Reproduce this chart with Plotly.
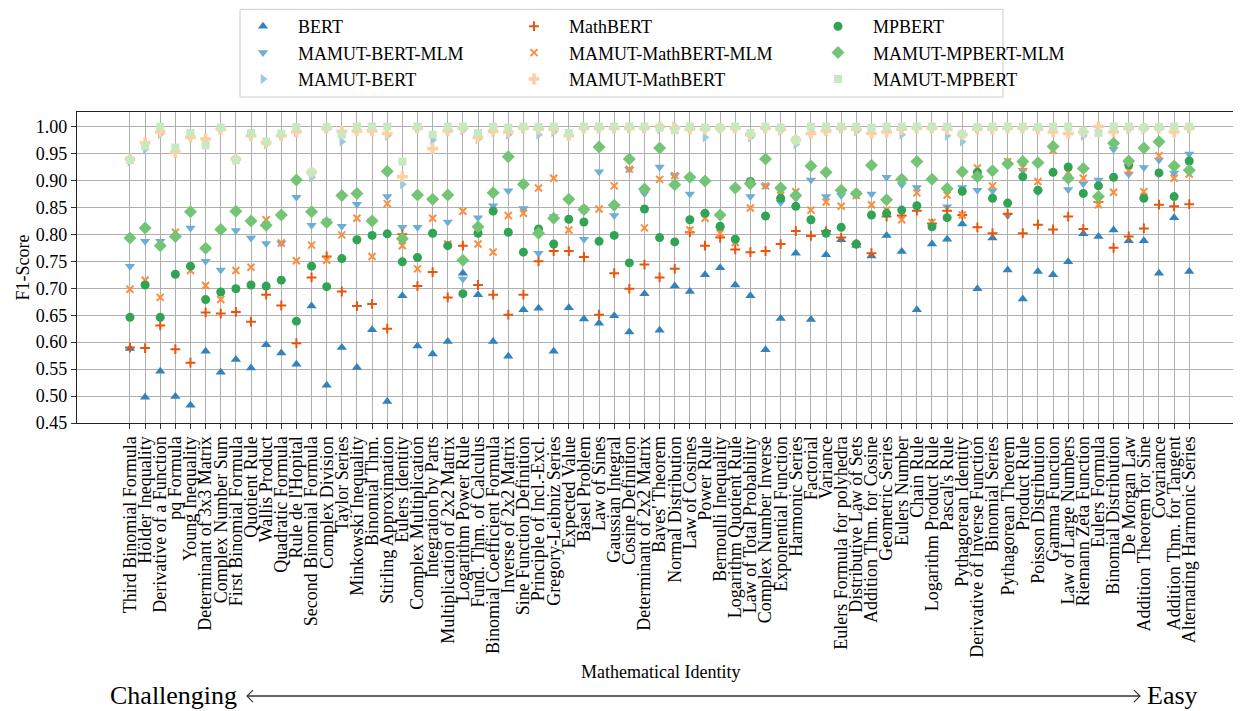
import plotly.graph_objects as go

categories = [
    "Third Binomial Formula", "Hölder Inequality", "Derivative of a Function", "pq Formula",
    "Young Inequality", "Determinant of 3x3 Matrix", "Complex Number Sum", "First Binomial Formula",
    "Quotient Rule", "Wallis Product", "Quadratic Formula", "Rule de l'Hopital",
    "Second Binomial Formula", "Complex Division", "Taylor Series", "Minkowski Inequality",
    "Binomial Thm.", "Stirling Approximation", "Eulers Identity", "Complex Multiplication",
    "Integration by Parts", "Multiplication of 2x2 Matrix", "Logarithm Power Rule",
    "Fund. Thm. of Calculus", "Binomial Coefficient Formula", "Inverse of 2x2 Matrix",
    "Sine Function Definition", "Principle of Incl.-Excl.", "Gregory-Leibniz Series",
    "Expected Value", "Basel Problem", "Law of Sines", "Gaussian Integral", "Cosine Definition",
    "Determinant of 2x2 Matrix", "Bayes' Theorem", "Normal Distribution", "Law of Cosines",
    "Power Rule", "Bernoulli Inequality", "Logarithm Quotient Rule", "Law of Total Probability",
    "Complex Number Inverse", "Exponential Function", "Harmonic Series", "Factorial", "Variance",
    "Eulers Formula for polyhedra", "Distributive Law of Sets", "Addition Thm. for Cosine",
    "Geometric Series", "Eulers Number", "Chain Rule", "Logarithm Product Rule", "Pascal's Rule",
    "Pythagorean Identity", "Derivative of Inverse Function", "Binomial Series",
    "Pythagorean Theorem", "Product Rule", "Poisson Distribution", "Gamma Function",
    "Law of Large Numbers", "Riemann Zeta Function", "Eulers Formula", "Binomial Distribution",
    "De Morgan Law", "Addition Theorem for Sine", "Covariance", "Addition Thm. for Tangent",
    "Alternating Harmonic Series",
]

bert = [0.588, 0.498, 0.546, 0.499, 0.483, 0.583, 0.544, 0.568, 0.552, 0.595,
        0.580, 0.559, 0.667, 0.520, 0.590, 0.553, 0.623, 0.490, 0.686, 0.593,
        0.578, 0.601, 0.728, 0.688, 0.601, 0.574, 0.660, 0.663, 0.583, 0.664,
        0.643, 0.635, 0.649, 0.619, 0.690, 0.622, 0.704, 0.694, 0.725, 0.738,
        0.706, 0.686, 0.586, 0.644, 0.765, 0.642, 0.762, 0.790, 0.780, 0.760,
        0.798, 0.768, 0.660, 0.782, 0.791, 0.819, 0.699, 0.793, 0.734, 0.680,
        0.731, 0.725, 0.749, 0.801, 0.796, 0.808, 0.788, 0.788, 0.728, 0.831,
        0.731]

mamut_bert_mlm = [0.741, 0.787, 0.787, 0.795, 0.812, 0.750, 0.734, 0.807, 0.793, 0.783,
                  0.784, 0.869, 0.817, 0.825, 0.815, 0.856, 0.825, 0.870, 0.813, 0.813,
                  0.865, 0.823, 0.717, 0.831, 0.853, 0.881, 0.848, 0.765, 0.833, 0.865,
                  0.791, 0.916, 0.835, 0.921, 0.876, 0.925, 0.909, 0.875, 0.836, 0.810,
                  0.886, 0.870, 0.890, 0.859, 0.867, 0.901, 0.870, 0.872, 0.876, 0.875,
                  0.906, 0.892, 0.887, 0.900, 0.851, 0.887, 0.882, 0.881, 0.835, 0.919,
                  0.878, 0.960, 0.883, 0.894, 0.901, 0.958, 0.912, 0.924, 0.938, 0.914,
                  0.949]

mamut_bert = [0.935, 0.958, 0.986, 0.958, 0.985, 0.970, 0.995, 0.938, 0.985, 0.967,
              0.985, 0.990, 0.906, 0.997, 0.972, 0.995, 0.995, 0.983, 0.893, 0.997,
              0.975, 0.995, 0.993, 0.977, 0.995, 0.985, 0.997, 0.985, 0.990, 0.985,
              0.997, 0.997, 0.997, 0.997, 0.997, 0.995, 1.000, 0.997, 0.980, 0.997,
              0.997, 0.980, 0.997, 0.992, 0.967, 0.990, 0.995, 0.997, 0.991, 0.995,
              0.995, 0.985, 0.997, 0.997, 0.983, 0.972, 0.997, 0.997, 0.997, 0.997,
              0.997, 0.997, 0.995, 0.983, 0.990, 0.997, 0.995, 0.995, 0.997, 0.997,
              0.997]

mathbert = [0.590, 0.589, 0.631, 0.587, 0.562, 0.655, 0.653, 0.656, 0.638, 0.688,
            0.668, 0.598, 0.720, 0.759, 0.694, 0.667, 0.671, 0.625, 0.800, 0.704,
            0.730, 0.683, 0.779, 0.706, 0.688, 0.651, 0.688, 0.750, 0.769, 0.769,
            0.758, 0.651, 0.728, 0.699, 0.744, 0.720, 0.736, 0.804, 0.779, 0.794,
            0.772, 0.767, 0.769, 0.782, 0.806, 0.797, 0.806, 0.794, 0.782, 0.765,
            0.833, 0.835, 0.844, 0.820, 0.844, 0.836, 0.813, 0.802, 0.838, 0.802,
            0.818, 0.809, 0.833, 0.810, 0.860, 0.775, 0.796, 0.811, 0.855, 0.852,
            0.856]

mamut_mathbert_mlm = [0.698, 0.715, 0.683, 0.804, 0.733, 0.705, 0.679, 0.733, 0.739, 0.827,
                      0.784, 0.751, 0.780, 0.752, 0.799, 0.830, 0.759, 0.857, 0.779, 0.736,
                      0.830, 0.782, 0.843, 0.782, 0.767, 0.835, 0.839, 0.886, 0.904, 0.808,
                      0.846, 0.847, 0.890, 0.921, 0.812, 0.902, 0.909, 0.808, 0.830, 0.802,
                      0.785, 0.849, 0.890, 0.872, 0.879, 0.845, 0.860, 0.852, 0.872, 0.855,
                      0.845, 0.827, 0.877, 0.822, 0.873, 0.836, 0.923, 0.890, 0.935, 0.924,
                      0.898, 0.956, 0.915, 0.904, 0.855, 0.878, 0.918, 0.879, 0.946, 0.904,
                      0.912]

mamut_mathbert = [0.940, 0.970, 0.990, 0.952, 0.980, 0.977, 0.995, 0.940, 0.983, 0.970,
                  0.983, 0.990, 0.915, 0.997, 0.991, 0.992, 0.992, 0.987, 0.907, 0.997,
                  0.959, 0.992, 0.997, 0.980, 0.991, 0.990, 0.997, 0.995, 0.995, 0.983,
                  0.997, 0.997, 0.997, 0.997, 0.997, 1.000, 0.997, 0.995, 0.995, 0.997,
                  0.997, 0.985, 0.997, 0.995, 0.975, 0.987, 0.992, 0.997, 0.995, 0.987,
                  0.990, 0.995, 0.997, 0.997, 0.995, 0.985, 0.995, 0.995, 0.997, 0.997,
                  0.995, 0.990, 0.987, 0.990, 1.000, 0.990, 0.997, 0.997, 0.997, 0.990,
                  0.997]

mpbert = [0.646, 0.706, 0.646, 0.726, 0.741, 0.679, 0.693, 0.699, 0.706, 0.704,
          0.715, 0.639, 0.741, 0.703, 0.755, 0.790, 0.798, 0.801, 0.749, 0.757,
          0.802, 0.779, 0.690, 0.802, 0.843, 0.804, 0.767, 0.810, 0.782, 0.828,
          0.823, 0.787, 0.798, 0.747, 0.847, 0.794, 0.786, 0.827, 0.839, 0.815,
          0.791, 0.898, 0.834, 0.867, 0.852, 0.827, 0.802, 0.813, 0.782, 0.836,
          0.839, 0.845, 0.853, 0.814, 0.831, 0.880, 0.915, 0.867, 0.858, 0.907,
          0.882, 0.915, 0.925, 0.876, 0.890, 0.906, 0.929, 0.867, 0.914, 0.870,
          0.936]

mamut_mpbert_mlm = [0.793, 0.812, 0.779, 0.796, 0.842, 0.774, 0.809, 0.843, 0.825, 0.817,
                    0.836, 0.901, 0.842, 0.822, 0.872, 0.876, 0.825, 0.917, 0.792, 0.873,
                    0.865, 0.873, 0.752, 0.814, 0.877, 0.944, 0.893, 0.802, 0.830, 0.865,
                    0.846, 0.962, 0.854, 0.940, 0.884, 0.960, 0.892, 0.906, 0.899, 0.836,
                    0.886, 0.894, 0.940, 0.886, 0.872, 0.927, 0.915, 0.882, 0.876, 0.928,
                    0.864, 0.902, 0.935, 0.902, 0.885, 0.916, 0.907, 0.918, 0.931, 0.935,
                    0.933, 0.963, 0.904, 0.922, 0.870, 0.969, 0.936, 0.960, 0.972, 0.927,
                    0.919]

mamut_mpbert = [0.938, 0.964, 1.000, 0.961, 0.988, 0.965, 0.998, 0.938, 0.988, 0.972,
                0.987, 0.999, 0.915, 0.999, 0.985, 1.000, 1.000, 1.000, 0.935, 1.000,
                0.985, 1.000, 1.000, 0.988, 1.000, 0.998, 1.000, 0.999, 1.000, 0.988,
                1.000, 1.000, 1.000, 1.000, 1.000, 0.998, 0.993, 1.000, 0.998, 0.998,
                1.000, 0.988, 1.000, 0.998, 0.975, 1.000, 1.000, 1.000, 1.000, 0.998,
                1.000, 1.000, 1.000, 1.000, 1.000, 0.986, 0.999, 1.000, 1.000, 1.000,
                0.999, 1.000, 1.000, 0.991, 0.988, 1.000, 1.000, 0.998, 0.999, 1.000,
                1.000]

y_ticks = [0.45, 0.50, 0.55, 0.60, 0.65, 0.70, 0.75, 0.80, 0.85, 0.90, 0.95, 1.00]

FONT = "Liberation Serif"
OFF = 8                      # page body margin of the browser
W, H = 1241 - OFF, 711 - OFF
PLOT_L, PLOT_R, PLOT_T, PLOT_B = 77, 1241, 111, 423   # screen pixels
ML, MT = PLOT_L - OFF, PLOT_T - OFF
MR = W - (PLOT_R - OFF)
MB = H - (PLOT_B - OFF)
PW, PH = PLOT_R - PLOT_L, PLOT_B - PLOT_T


def pxx(x):
    return (x - PLOT_L) / PW


def pxy(y):
    return (PLOT_B - y) / PH


idx = list(range(len(categories)))

series = [
    ("BERT", bert, dict(symbol="triangle-up", size=9, color="#3182bd"), "legend"),
    ("MAMUT-BERT-MLM", mamut_bert_mlm, dict(symbol="triangle-down", size=9, color="#6baed6"), "legend"),
    ("MAMUT-BERT", mamut_bert, dict(symbol="triangle-right", size=9, color="#9ecae1"), "legend"),
    ("MathBERT", mathbert, dict(symbol="cross-thin", size=7, color="#e6550d",
                                line=dict(width=2, color="#e6550d")), "legend2"),
    ("MAMUT-MathBERT-MLM", mamut_mathbert_mlm, dict(symbol="x-thin", size=7, color="#fd8d3c",
                                                    line=dict(width=2, color="#fd8d3c")), "legend2"),
    ("MAMUT-MathBERT", mamut_mathbert, dict(symbol="cross", size=9, color="#fdd0a2"), "legend2"),
    ("MPBERT", mpbert, dict(symbol="circle", size=9, color="#31a354"), "legend3"),
    ("MAMUT-MPBERT-MLM", mamut_mpbert_mlm, dict(symbol="diamond", size=10, color="#74c476"), "legend3"),
    ("MAMUT-MPBERT", mamut_mpbert, dict(symbol="square", size=8, color="#c7e9c0"), "legend3"),
]

fig = go.Figure()
for name, vals, marker, leg in series:
    fig.add_trace(go.Scatter(x=idx, y=vals, mode="markers", name=name, marker=marker,
                             legend=leg, cliponaxis=False))

leg_common = dict(xanchor="left", yanchor="top", bgcolor="rgba(0,0,0,0)", borderwidth=0,
                  font=dict(family=FONT, size=18, color="black"), tracegroupgap=0,
                  orientation="v", itemwidth=60)
fig.update_layout(
    width=W, height=H,
    margin=dict(l=ML, r=MR, t=MT, b=MB, pad=0),
    paper_bgcolor="white", plot_bgcolor="white",
    font=dict(family=FONT, size=18, color="black"),
    legend=dict(x=pxx(228), y=pxy(7), **leg_common),
    legend2=dict(x=pxx(499), y=pxy(7), **leg_common),
    legend3=dict(x=pxx(803), y=pxy(7), **leg_common),
    xaxis=dict(range=[-3.5, 73.42], tickmode="array", tickvals=idx, ticktext=categories,
               tickangle=-90, showgrid=True, gridcolor="#b0b0b0", gridwidth=1,
               ticks="outside", ticklen=5, tickcolor="#333", showline=True,
               linecolor="#222", linewidth=1.2, mirror=True, zeroline=False,
               tickfont=dict(family=FONT, size=18, color="black")),
    yaxis=dict(range=[0.45, 1.027], tickmode="array", tickvals=y_ticks,
               ticktext=[f"{v:.2f}" for v in y_ticks],
               showgrid=True, gridcolor="#b0b0b0", gridwidth=1,
               ticks="outside", ticklen=5, tickcolor="#333", showline=True,
               linecolor="#222", linewidth=1.2, mirror=True, zeroline=False,
               tickfont=dict(family=FONT, size=18, color="black")),
    showlegend=True,
)

# legend frame
fig.add_shape(type="rect", xref="paper", yref="paper",
              x0=pxx(240), x1=pxx(1003), y0=pxy(96), y1=pxy(8),
              line=dict(color="#cccccc", width=1), fillcolor="rgba(255,255,255,0.8)",
              layer="below")

# axis titles
fig.add_annotation(text="F1-Score", xref="paper", yref="paper", x=pxx(22), y=0.5,
                   textangle=-90, showarrow=False, xanchor="center", yanchor="middle",
                   font=dict(family=FONT, size=18, color="black"))
fig.add_annotation(text="Mathematical Identity", xref="paper", yref="paper", x=pxx(660),
                   y=pxy(673), showarrow=False, xanchor="center", yanchor="middle",
                   font=dict(family=FONT, size=18, color="black"))

# difficulty arrow
fig.add_annotation(text="Challenging", xref="paper", yref="paper", x=pxx(108), y=pxy(696),
                   showarrow=False, xanchor="left", yanchor="middle",
                   font=dict(family=FONT, size=26, color="black"))
fig.add_annotation(text="Easy", xref="paper", yref="paper", x=pxx(1145), y=pxy(696),
                   showarrow=False, xanchor="left", yanchor="middle",
                   font=dict(family=FONT, size=26, color="black"))
ay = pxy(697)
fig.add_shape(type="line", xref="paper", yref="paper", x0=pxx(247), x1=pxx(1140),
              y0=ay, y1=ay, line=dict(color="#333", width=1.5))
for xa, xb in [(247, 253), (1140, 1134)]:
    path = (f"M {pxx(xb)} {pxy(691)} L {pxx(xa)} {ay} L {pxx(xb)} {pxy(703)}")
    fig.add_shape(type="path", xref="paper", yref="paper", path=path,
                  line=dict(color="#333", width=1.2))

fig.write_html("out.html")
